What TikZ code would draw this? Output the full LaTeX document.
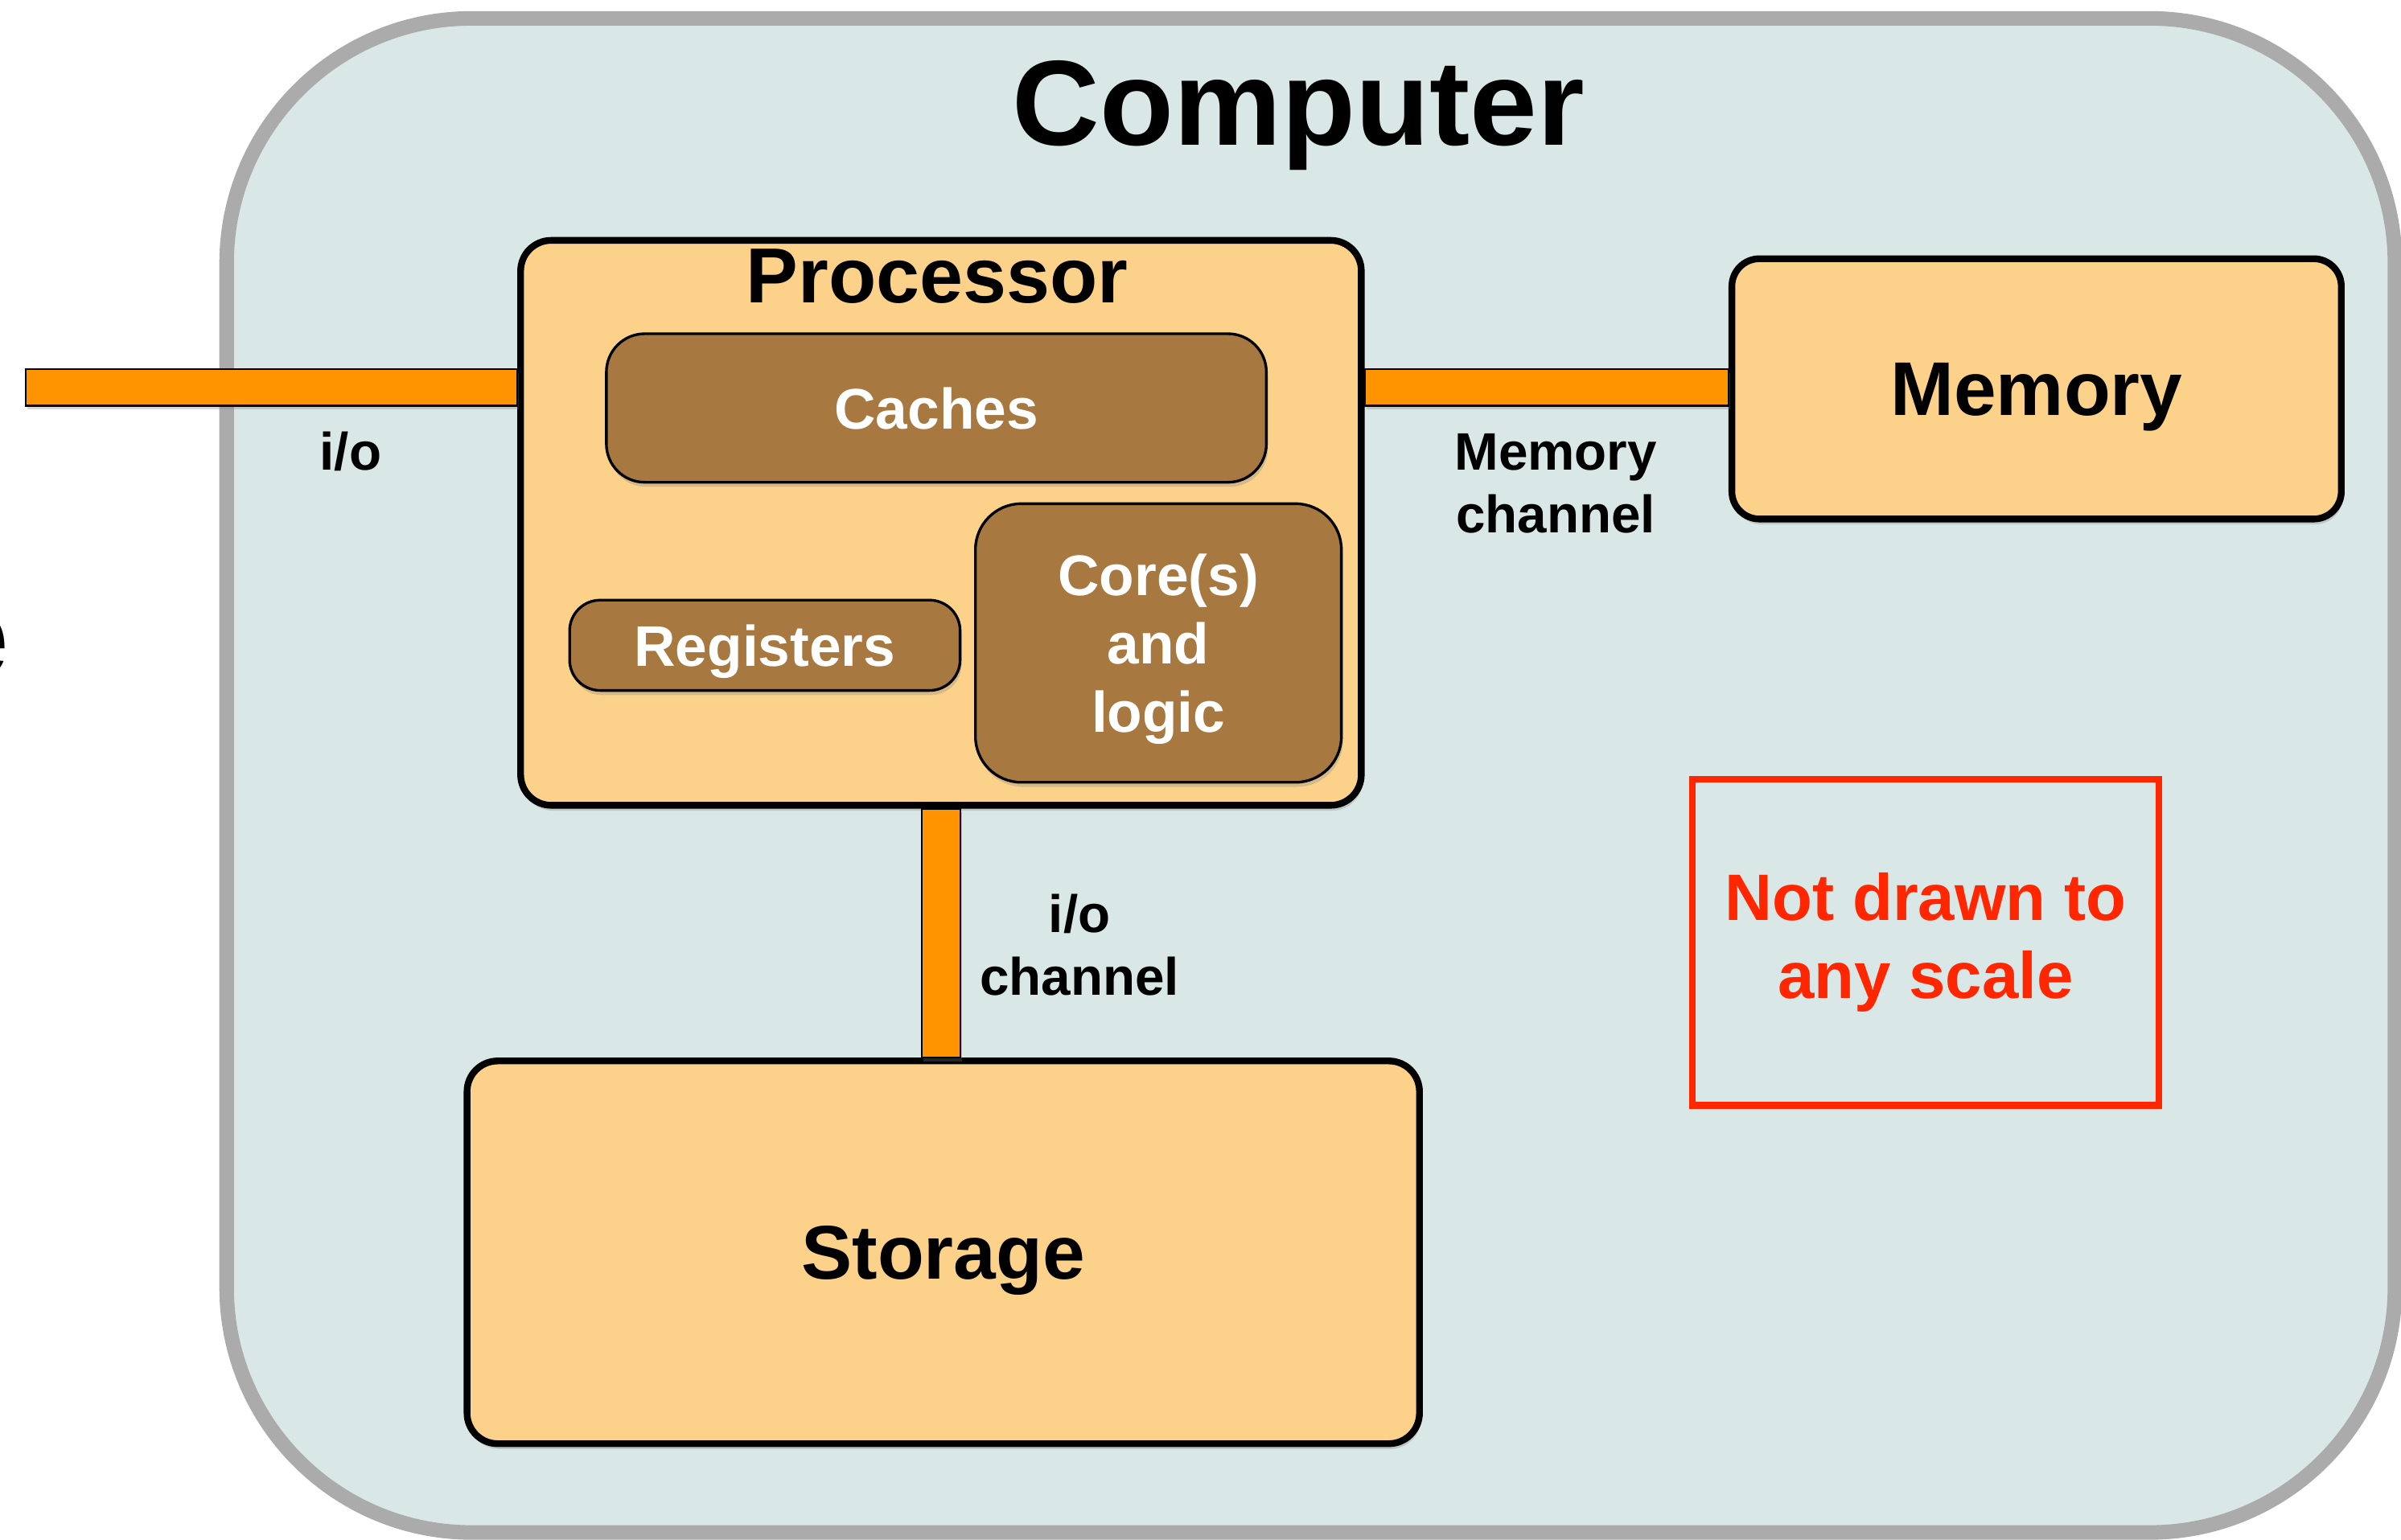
\documentclass[tikz,border=0pt]{standalone}
\usepackage{fontspec}
\setmainfont{Liberation Sans}
\usepackage{xcolor}
\usetikzlibrary{shadows}

\definecolor{compfill}{HTML}{DAE7E7}
\definecolor{compgray}{HTML}{ABABAB}
\definecolor{partfill}{HTML}{FCD28B}
\definecolor{partbrown}{HTML}{A77941}
\definecolor{busorange}{HTML}{FF9300}
\definecolor{warnred}{HTML}{FF2600}

\begin{document}
\begin{tikzpicture}
        \tikzset{unit/.style={draw,line width=2.5pt,fill=partfill,rounded corners=0.4cm,inner sep=0pt,text depth=0pt,
                font=\bfseries\fontsize{28.3}{34}\selectfont,
                drop shadow={shadow xshift=0.02cm,shadow yshift=-0.07cm,opacity=0.3}}}
        \tikzset{part/.style={draw,line width=1pt,fill=partbrown,text=white,rounded corners=0.5cm,inner sep=0pt,text depth=0pt,
                align=center,font=\bfseries\fontsize{21.3}{25.3}\selectfont,
                drop shadow={shadow xshift=0.02cm,shadow yshift=-0.06cm,opacity=0.3}}}
        \tikzset{bus/.style={draw,line width=0.6pt,fill=busorange,
                drop shadow={shadow xshift=0.02cm,shadow yshift=-0.05cm,opacity=0.3}}}
        \tikzset{lbl/.style={align=center,font=\bfseries\fontsize{19.6}{23.3}\selectfont}}
        \clip (0,0) rectangle (31.36,-20.11);
        \node[draw=compgray,line width=5.4pt,fill=compfill,rounded corners=3.2cm,inner sep=0pt,
                minimum width=28.32cm,minimum height=19.78cm] (comp) at (17.12,-10.13) {};
        \node[anchor=base east,inner sep=0pt,font=\bfseries\fontsize{45}{54}\selectfont] (cut) at (0.12,-8.85) {e};
        \node[anchor=base,inner sep=0pt,font=\bfseries\fontsize{45}{54}\selectfont] (ctitle) at (16.96,-1.9) {Computer};
        \node[unit,minimum width=10.98cm,minimum height=7.38cm] (proc) at (12.29,-6.83) {};
        \node[anchor=base,inner sep=0pt,font=\bfseries\fontsize{29}{35}\selectfont] (ptitle) at (12.24,-3.96) {Processor};
        \node[part,minimum width=8.62cm,minimum height=1.94cm] (cache) at (12.23,-5.33) {Caches};
        \node[part,rounded corners=0.4cm,minimum width=5.1cm,minimum height=1.18cm] (reg) at (9.99,-8.43) {Registers};
        \node[part,rounded corners=0.6cm,minimum width=4.78cm,minimum height=3.64cm] (core) at (15.13,-8.4) {Core(s)\\and\\logic};
        \node[unit,rounded corners=0.36cm,minimum width=7.96cm,minimum height=3.4cm] (mem) at (26.6,-5.08) {Memory};
        \node[unit,minimum width=12.44cm,minimum height=5cm] (stor) at (12.32,-16.36) {Storage};
        \coordinate (ioend) at (0.34,-5.06);
        \draw[bus] ([yshift=0.24cm]ioend) rectangle ([yshift=-0.24cm]proc.west |- ioend);
        \draw[bus] ([yshift=0.24cm]proc.east |- ioend) rectangle ([yshift=-0.24cm]mem.west |- ioend);
        \draw[bus] ([xshift=-0.25cm]proc.south) rectangle ([xshift=0.25cm]stor.north -| proc.south);
        \node[lbl,anchor=base] (iolbl) at (4.58,-6.14) {i/o};
        \node[lbl] (memlbl) at (20.32,-6.32) {Memory\\channel};
        \node[lbl] (chanlbl) at (14.1,-12.34) {i/o\\channel};
        \node[draw=warnred,line width=2.4pt,text=warnred,align=center,inner sep=0pt,
                font=\bfseries\fontsize{24.4}{29}\selectfont,
                minimum width=6.1cm,minimum height=4.26cm] (note) at (25.15,-12.31) {Not drawn to\\any scale};
\end{tikzpicture}
\end{document}
